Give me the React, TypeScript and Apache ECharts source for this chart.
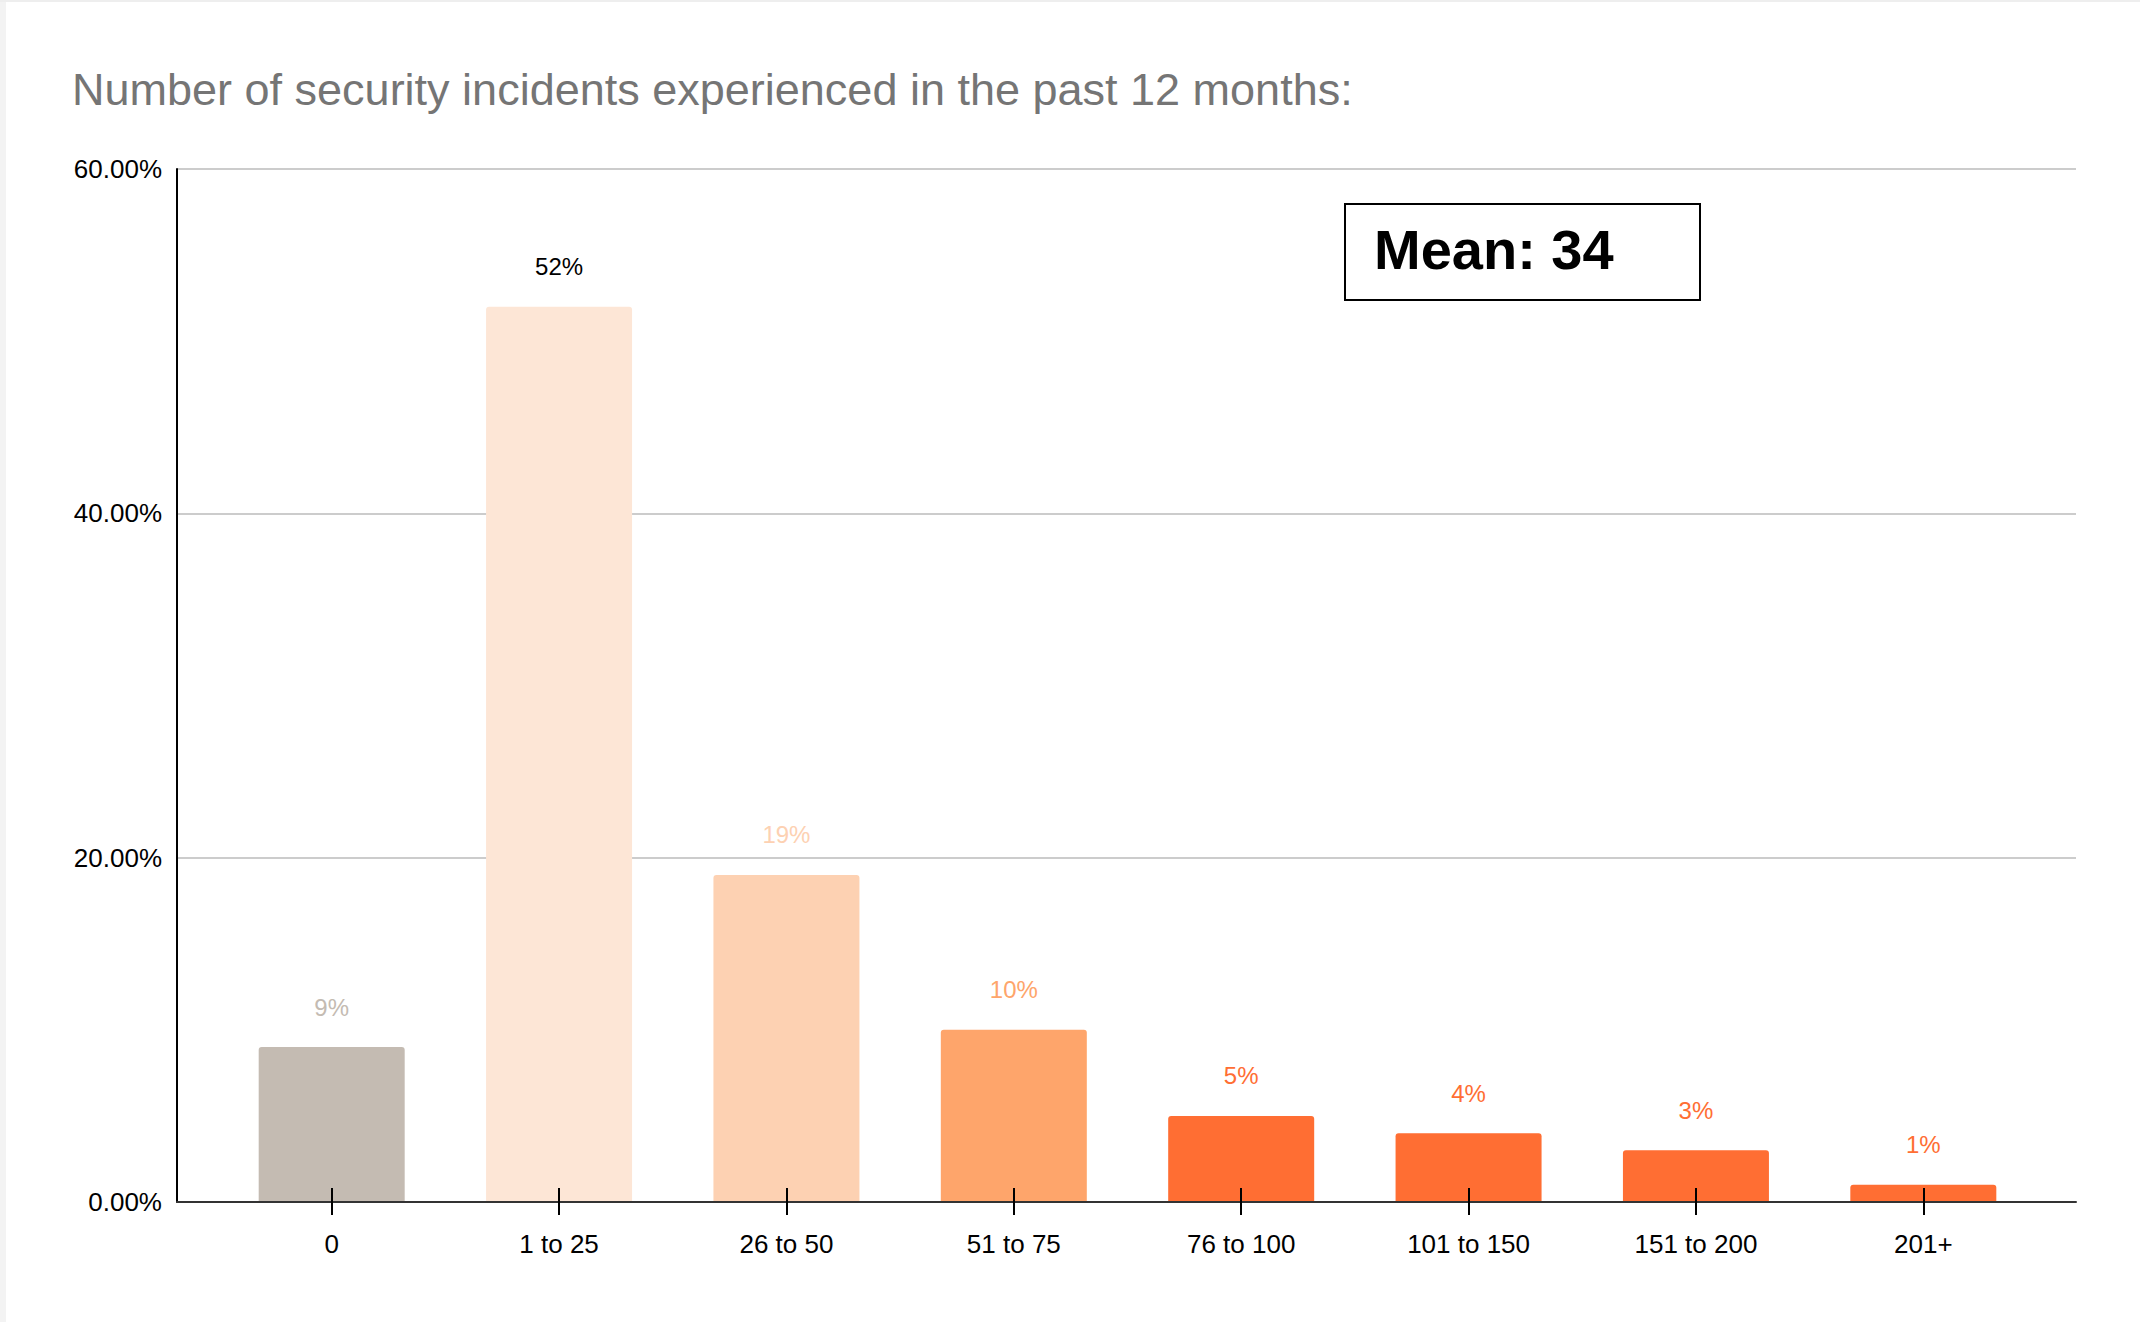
import React, { useEffect, useRef } from "react";
import * as echarts from "echarts";

const categories = ["0", "1 to 25", "26 to 50", "51 to 75", "76 to 100", "101 to 150", "151 to 200", "201+"];
const values = [9, 52, 19, 10, 5, 4, 3, 1];
const barColors = ["#c4bbb2", "#fde6d6", "#fdd1b2", "#fea56b", "#ff6e33", "#ff6e33", "#ff6e33", "#ff6e33"];
const labelColors = ["#c4bbb2", "#000000", "#fdd1b2", "#fea56b", "#ff6e33", "#ff6e33", "#ff6e33", "#ff6e33"];
const yTicks = [0, 20, 40, 60];
const titleText = "Number of security incidents experienced in the past 12 months:";
const meanText = "Mean: 34";

const FONT = "'Liberation Sans', Arial, Helvetica, sans-serif";

export default function App() {
  const ref = useRef<HTMLDivElement>(null);
  useEffect(() => {
    if (!ref.current) return;
    const chart = echarts.init(ref.current, undefined, { renderer: "svg" });
    chart.setOption({
      animation: false,
      backgroundColor: "#ffffff",
      textStyle: { fontFamily: FONT },
      title: {
        text: titleText,
        left: 67,
        top: 62,
        textStyle: { fontFamily: FONT, fontSize: 45, fontWeight: "normal", color: "#757575" },
      },
      grid: [
        { left: 177, right: 64, top: 169, bottom: 120, containLabel: false },
        { left: 218, right: 103, top: 169, bottom: 120, containLabel: false },
      ],
      xAxis: [
        {
          type: "value",
          gridIndex: 0,
          min: 0,
          max: 1,
          axisLine: { show: true, onZero: false, lineStyle: { color: "#333333", width: 2 } },
          axisTick: { show: false },
          axisLabel: { show: false },
          splitLine: { show: false },
          z: 4,
        },
        {
          type: "category",
          gridIndex: 1,
          data: categories,
          position: "bottom",
          axisLine: { show: false },
          axisTick: { show: true, alignWithLabel: true, length: 13, lineStyle: { color: "#000", width: 2 } },
          axisLabel: { color: "#000", fontSize: 26, fontFamily: FONT, margin: 29 },
          z: 5,
        },
        {
          type: "category",
          gridIndex: 1,
          data: categories,
          position: "bottom",
          axisLine: { show: false },
          axisTick: { show: true, inside: true, alignWithLabel: true, length: 14, lineStyle: { color: "#000", width: 2 } },
          axisLabel: { show: false },
          z: 5,
        },
      ],
      yAxis: [
        {
          type: "value",
          gridIndex: 0,
          min: yTicks[0],
          max: yTicks[yTicks.length - 1],
          interval: 20,
          axisLine: { show: true, lineStyle: { color: "#000", width: 2 } },
          axisTick: { show: false },
          splitLine: { show: true, lineStyle: { color: "#cccccc", width: 2 } },
          axisLabel: {
            color: "#000",
            fontSize: 26,
            fontFamily: FONT,
            margin: 15,
            formatter: (v: number) => v.toFixed(2) + "%",
          },
        },
        {
          type: "value",
          gridIndex: 1,
          min: yTicks[0],
          max: yTicks[yTicks.length - 1],
          interval: 20,
          show: false,
        },
      ],
      series: [
        {
          type: "bar",
          xAxisIndex: 1,
          yAxisIndex: 1,
          barWidth: 146,
          data: values.map((v, i) => ({
            value: v,
            itemStyle: { color: barColors[i], borderRadius: [3, 3, 0, 0] },
            label: { color: labelColors[i] },
          })),
          label: {
            show: true,
            position: "top",
            distance: 28,
            fontSize: 24,
            fontFamily: FONT,
            formatter: (p: any) => p.value + "%",
          },
        },
      ],
      graphic: [
        { type: "rect", left: 0, top: 0, shape: { width: 6, height: 1322 }, style: { fill: "#f3f3f3" }, silent: true },
        { type: "rect", left: 0, top: 0, shape: { width: 2140, height: 2 }, style: { fill: "#eeeeee" }, silent: true },
        {
          type: "rect",
          left: 1344,
          top: 203,
          shape: { width: 355, height: 96 },
          style: { fill: "#ffffff", stroke: "#000", lineWidth: 2 },
          z: 10,
        },
        {
          type: "text",
          left: 1374,
          top: 221,
          style: { text: meanText, fill: "#000", font: `bold 56px ${FONT}` },
          z: 11,
        },
      ],
    });
    return () => chart.dispose();
  }, []);
  return (
    <div
      ref={ref}
      style={{ position: "fixed", left: 0, top: 0, width: 2140, height: 1322, background: "#fff" }}
    />
  );
}
